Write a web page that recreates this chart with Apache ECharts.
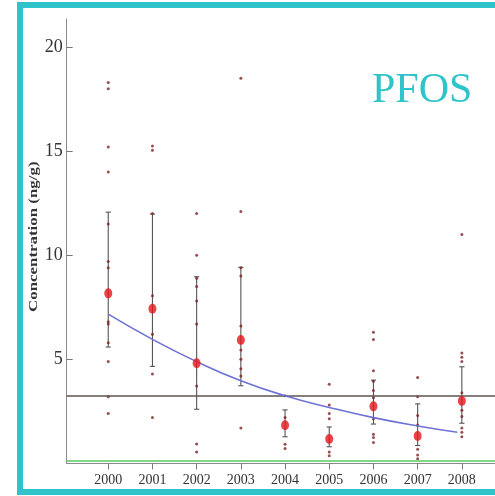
<!DOCTYPE html>
<html>
<head>
<meta charset="utf-8">
<script src="https://cdn.jsdelivr.net/npm/echarts@6/dist/echarts.min.js"></script>
<style>
html,body{margin:0;padding:0;background:#fff;}
#main{width:495px;height:496px;}
</style>
</head>
<body>
<div id="main"></div>
<script>
// ---- data ----
const years = [2000, 2001, 2002, 2003, 2004, 2005, 2006, 2007, 2008];
const yTicks = [5, 10, 15, 20];
const means = [8.17, 7.43, 4.81, 5.93, 1.83, 1.17, 2.74, 1.32, 3.0];
const barLow = [5.59, 4.66, 2.6, 3.73, 1.28, 0.8, 1.89, 0.86, 1.93];
const barHigh = [12.07, 11.98, 8.97, 9.42, 2.57, 1.75, 4.0, 2.86, 4.64];
const pts2000 = [18.3, 18.0, 15.2, 14.0, 11.5, 9.7, 9.4, 6.8, 6.7, 5.8, 4.9, 3.2, 2.4];
const pts2001 = [15.25, 15.05, 12.0, 8.05, 6.2, 4.3, 2.2];
const pts2002 = [12.0, 10.0, 8.9, 8.5, 7.8, 6.7, 3.72, 0.93, 0.55];
const pts2003 = [18.5, 12.1, 9.4, 9.0, 6.6, 5.45, 5.0, 4.55, 4.2, 1.7];
const pts2004 = [3.25, 2.2, 0.92, 0.72];
const pts2005 = [3.8, 2.8, 2.4, 2.15, 0.55, 0.37];
const pts2006 = [6.3, 5.95, 4.45, 3.95, 3.5, 3.15, 2.15, 1.4, 1.25, 1.0];
const pts2007 = [4.13, 3.2, 2.3, 1.85, 0.68, 0.4, 0.22];
const pts2008 = [11.0, 5.3, 5.1, 4.9, 3.4, 2.55, 2.25, 1.7, 1.5, 1.28];
const fitX = [2000, 2001, 2002, 2003, 2004, 2005, 2006, 2007, 2007.9];
const fitY = [7.17, 5.96, 4.89, 3.97, 3.25, 2.69, 2.2, 1.8, 1.5];
const refLevel = 3.24;
const lowLevel = 0.13;
const labelText = 'PFOS';
const yName = 'Concentration (ng/g)';

// ---- build ----
const allPts = [pts2000, pts2001, pts2002, pts2003, pts2004, pts2005, pts2006, pts2007, pts2008];
const sampleData = [];
allPts.forEach((arr, i) => arr.forEach(v => sampleData.push([years[i], v])));
const barData = years.map((y, i) => [y, barLow[i], barHigh[i]]);
const meanData = years.map((y, i) => [y, means[i]]);
const fitData = fitX.map((x, i) => [x, fitY[i]]);

const teal = '#2fc4c9';
const serif = '"Liberation Serif", "Times New Roman", serif';

const chart = echarts.init(document.getElementById('main'), null, {renderer: 'canvas'});
chart.setOption({
  backgroundColor: '#fff',
  animation: false,
  title: {
    text: labelText, left: 367, top: 65,
    textStyle: {fontFamily: serif, fontSize: 42, fontWeight: 'normal', color: teal}
  },
  grid: {left: 66.7, right: 0, top: 19, bottom: 32.6},
  xAxis: {
    type: 'value', min: 1999.06, max: 2008.75,
    splitLine: {show: false},
    axisLine: {lineStyle: {color: '#8a8a8a', width: 1}},
    axisTick: {customValues: years, length: 6, inside: false, lineStyle: {color: '#777'}},
    axisLabel: {customValues: years, margin: 10, fontFamily: serif, fontSize: 14, color: '#333',
      formatter: v => String(Math.round(v))}
  },
  yAxis: {
    type: 'value', min: 0, max: 21.35,
    splitLine: {show: false},
    axisLine: {show: true, lineStyle: {color: '#8a8a8a', width: 1}},
    axisTick: {show: true, customValues: yTicks, inside: true, length: 6, lineStyle: {color: '#777'}},
    axisLabel: {customValues: yTicks, margin: 4, fontFamily: serif, fontSize: 18, color: '#333'}
  },
  graphic: [
    {type: 'rect', silent: true, z: 100,
      shape: {x: 20, y: 5, width: 520, height: 487},
      style: {fill: 'none', stroke: teal, lineWidth: 6}},
    {type: 'text', silent: true, x: 33.5, y: 236.7, rotation: Math.PI / 2, scaleX: 1.35,
      style: {text: yName, font: 'bold 12.5px ' + serif, align: 'center', verticalAlign: 'middle', fill: '#333'}}
  ],
  series: [
    {
      type: 'line', data: [], silent: true,
      markLine: {
        silent: true, symbol: 'none', label: {show: false},
        data: [
          {yAxis: refLevel, lineStyle: {color: '#5e5252', width: 1.6, type: 'solid'}},
          {yAxis: lowLevel, lineStyle: {color: '#82d786', width: 2, type: 'solid'}}
        ]
      }
    },
    {
      type: 'custom', data: barData, encode: {x: 0, y: [1, 2]}, z: 3,
      renderItem: (params, api) => {
        const x = api.value(0);
        const pLo = api.coord([x, api.value(1)]);
        const pHi = api.coord([x, api.value(2)]);
        const w = 2.6;
        const st = {stroke: '#555', lineWidth: 1.1};
        return {type: 'group', children: [
          {type: 'line', shape: {x1: pLo[0], y1: pLo[1], x2: pHi[0], y2: pHi[1]}, style: st},
          {type: 'line', shape: {x1: pLo[0] - w, y1: pLo[1], x2: pLo[0] + w, y2: pLo[1]}, style: st},
          {type: 'line', shape: {x1: pHi[0] - w, y1: pHi[1], x2: pHi[0] + w, y2: pHi[1]}, style: st}
        ]};
      }
    },
    {
      type: 'scatter', data: sampleData, symbol: 'circle', symbolSize: 3, z: 4,
      itemStyle: {color: '#7a2424'}
    },
    {
      type: 'line', data: fitData, smooth: true, showSymbol: false, z: 5,
      lineStyle: {color: '#6d72d4', width: 1.6}
    },
    {
      type: 'scatter', data: meanData, symbol: 'circle', symbolSize: [8, 10], z: 6,
      itemStyle: {color: '#e3161b'}
    }
  ]
});
</script>
</body>
</html>
